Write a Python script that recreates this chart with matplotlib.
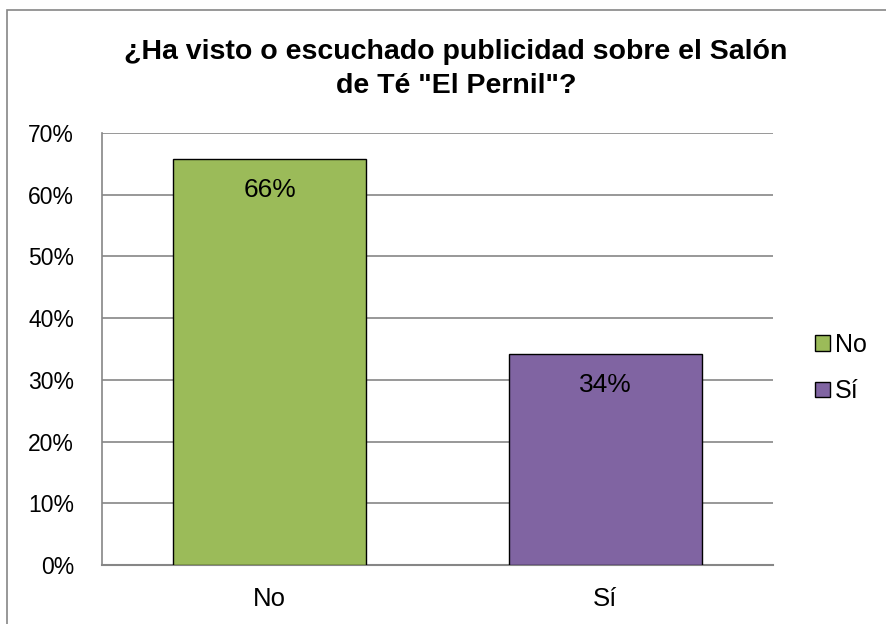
import numpy as np
import matplotlib.pyplot as plt
from matplotlib.patches import Rectangle, Patch

categories = ['No', 'Sí']
values = [0.658, 0.342]
labels = ['66%', '34%']
colors = ['#9BBB59', '#8064A2']
yticks = [0.0, 0.1, 0.2, 0.3, 0.4, 0.5, 0.6, 0.7]
ytick_labels = ['0%', '10%', '20%', '30%', '40%', '50%', '60%', '70%']

plt.rcParams['font.family'] = ['Liberation Sans', 'DejaVu Sans']

fig = plt.figure(figsize=(8.87, 6.24), dpi=100)
ax = fig.add_axes([102/887, 1 - 565/624, 671/887, 432/624])

# chart frame (Excel style), runs off the right/bottom edge
fig.patches.append(Rectangle((7/887, -0.1), 1.2, 1 - 10/624 + 0.1, transform=fig.transFigure,
                             fill=False, edgecolor='#868686', linewidth=1.2))

x = np.arange(len(categories))
ax.bar(x, values, width=0.574, color=colors, edgecolor='black', linewidth=1, zorder=3)
for xi, v, lab in zip(x, values, labels):
    ax.text(xi, v - 0.051, lab, ha='center', va='center', fontsize=19, zorder=4)

ax.set_xlim(-0.5, 1.5)
ax.set_ylim(0, 0.7)
ax.set_yticks(yticks)
ax.set_yticklabels(ytick_labels, fontsize=16.5)
ax.set_xticks(x)
ax.set_xticklabels(categories, fontsize=18.5)
ax.tick_params(axis='y', length=0, pad=20)
ax.tick_params(axis='x', length=0, pad=16)
ax.yaxis.grid(True, color='#868686', linewidth=1.2, zorder=0)
ax.set_axisbelow(True)
for s in ['top', 'right']:
    ax.spines[s].set_visible(False)
ax.spines['left'].set_color('#868686')
ax.spines['bottom'].set_color('#868686')
ax.spines['left'].set_linewidth(1.2)
ax.spines['bottom'].set_linewidth(1.5)

fig.text(456/887, 1 - 69/624, '¿Ha visto o escuchado publicidad sobre el Salón\nde Té "El Pernil"?',
         ha='center', va='center', fontsize=20.5, fontweight='bold', linespacing=1.4)

handles = [Patch(facecolor=c, edgecolor='black', label=l) for c, l in zip(colors, categories)]
fig.legend(handles=handles, loc='center left', bbox_to_anchor=(815/887, 1 - 368/624),
           frameon=False, fontsize=18, handlelength=0.6, handleheight=0.6,
           handletextpad=0.2, labelspacing=0.9, borderaxespad=0, borderpad=0)

fig.savefig('out.png', dpi=100)
